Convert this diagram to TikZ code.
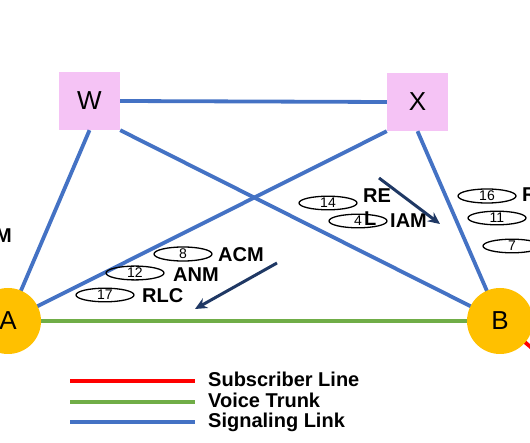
\documentclass[tikz,border=0pt]{standalone}
\usepackage{fontspec}
\setmainfont{Liberation Sans}
\usetikzlibrary{shapes.geometric,arrows.meta}
\definecolor{sigblue}{HTML}{4472C4}
\definecolor{trunkgreen}{HTML}{70AD47}
\definecolor{subred}{HTML}{FF0000}
\definecolor{nodegold}{HTML}{FFC000}
\definecolor{boxpink}{HTML}{F5C3F5}
\definecolor{navy}{HTML}{1F3864}
\tikzset{
  siglink/.style={draw=sigblue, line width=3.8pt},
  trunk/.style={draw=trunkgreen, line width=3.8pt},
  subline/.style={draw=subred, line width=3.8pt},
  stp/.style={fill=boxpink, minimum width=61pt, minimum height=58pt, inner sep=0pt, font=\fontsize{26}{28}\selectfont},
  office/.style={circle, fill=nodegold, minimum size=66pt, inner sep=0pt, font=\fontsize{26}{28}\selectfont},
  msgnum/.style={ellipse, draw=black, line width=1.3pt, minimum width=58pt, minimum height=13pt, inner sep=0pt, font=\fontsize{14}{14}\selectfont},
  msgname/.style={anchor=base west, inner sep=0pt, font=\fontsize{20}{20}\selectfont\bfseries},
  flow/.style={draw=navy, line width=3pt, -{Stealth[length=12pt,width=11pt]}},
  legendtext/.style={anchor=base west, inner sep=0pt, font=\fontsize{20}{20}\selectfont\bfseries}
}
\begin{document}
\begin{tikzpicture}[x=1pt, y=-1pt]
\useasboundingbox (0,0) rectangle (530,443);
\clip (0,0) rectangle (530,443);
% nodes
\node[stp] (W) at (89.5,101) {W};
\node[stp] (X) at (417.5,102) {X};
\coordinate (Acen) at (8,321);
\coordinate (Bcen) at (500,321);
% links (drawn first, offices on top)
\path[siglink] (W.east) -- (X.west);
\path[siglink] (W.south) -- (Acen);
\path[siglink] (W.south east) -- (Bcen);
\path[siglink] (X.south west) -- (Acen);
\path[siglink] (X.south) -- (Bcen);
\path[trunk] (Acen) -- (Bcen);
\coordinate (subend) at (540,355);
\path[subline] (Bcen) -- (subend);
\node[office] (A) at (Acen) {A};
\node[office] (B) at (Bcen) {B};
% message ellipses and names
\node[msgnum] (e8) at (183,254) {8};
\node[msgname] (n8) at (218,261.5) {ACM};
\node[msgnum] (e12) at (135,273) {12};
\node[msgname] (n12) at (173,281.5) {ANM};
\node[msgnum] (e17) at (105,295) {17};
\node[msgname] (n17) at (142,303) {RLC};
\node[msgnum] (e14) at (328,203) {14};
\node[msgname] (n14) at (363,203) {RE};
\node[msgnum] (e4) at (358,221) {4};
\node[msgname] (nL) at (364,226) {L};
\node[msgname] (n4) at (390,228) {IAM};
\node[msgnum] (e16) at (487,196) {16};
\node[msgname] (n16) at (522,202) {R};
\node[msgnum] (e11) at (497,218) {11};
\node[msgnum] (e7) at (512,246) {7};
\node[msgname, anchor=base east] (nleft) at (12,243) {IAM};
% message flow arrows
\coordinate (f1s) at (277,263);
\coordinate (f1e) at (195,309);
\coordinate (f2s) at (379,178);
\coordinate (f2e) at (440,224);
\path[flow] (f1s) -- (f1e);
\path[flow] (f2s) -- (f2e);
% legend
\coordinate (l1a) at (70,381); \coordinate (l1b) at (195,381);
\coordinate (l2a) at (70,402); \coordinate (l2b) at (195,402);
\coordinate (l3a) at (70,422); \coordinate (l3b) at (195,422);
\path[subline] (l1a) -- (l1b);
\path[trunk] (l2a) -- (l2b);
\path[siglink] (l3a) -- (l3b);
\node[legendtext] (t1) at (208,387) {Subscriber Line};
\node[legendtext] (t2) at (208,407) {Voice Trunk};
\node[legendtext] (t3) at (208,427) {Signaling Link};
\end{tikzpicture}
\end{document}
